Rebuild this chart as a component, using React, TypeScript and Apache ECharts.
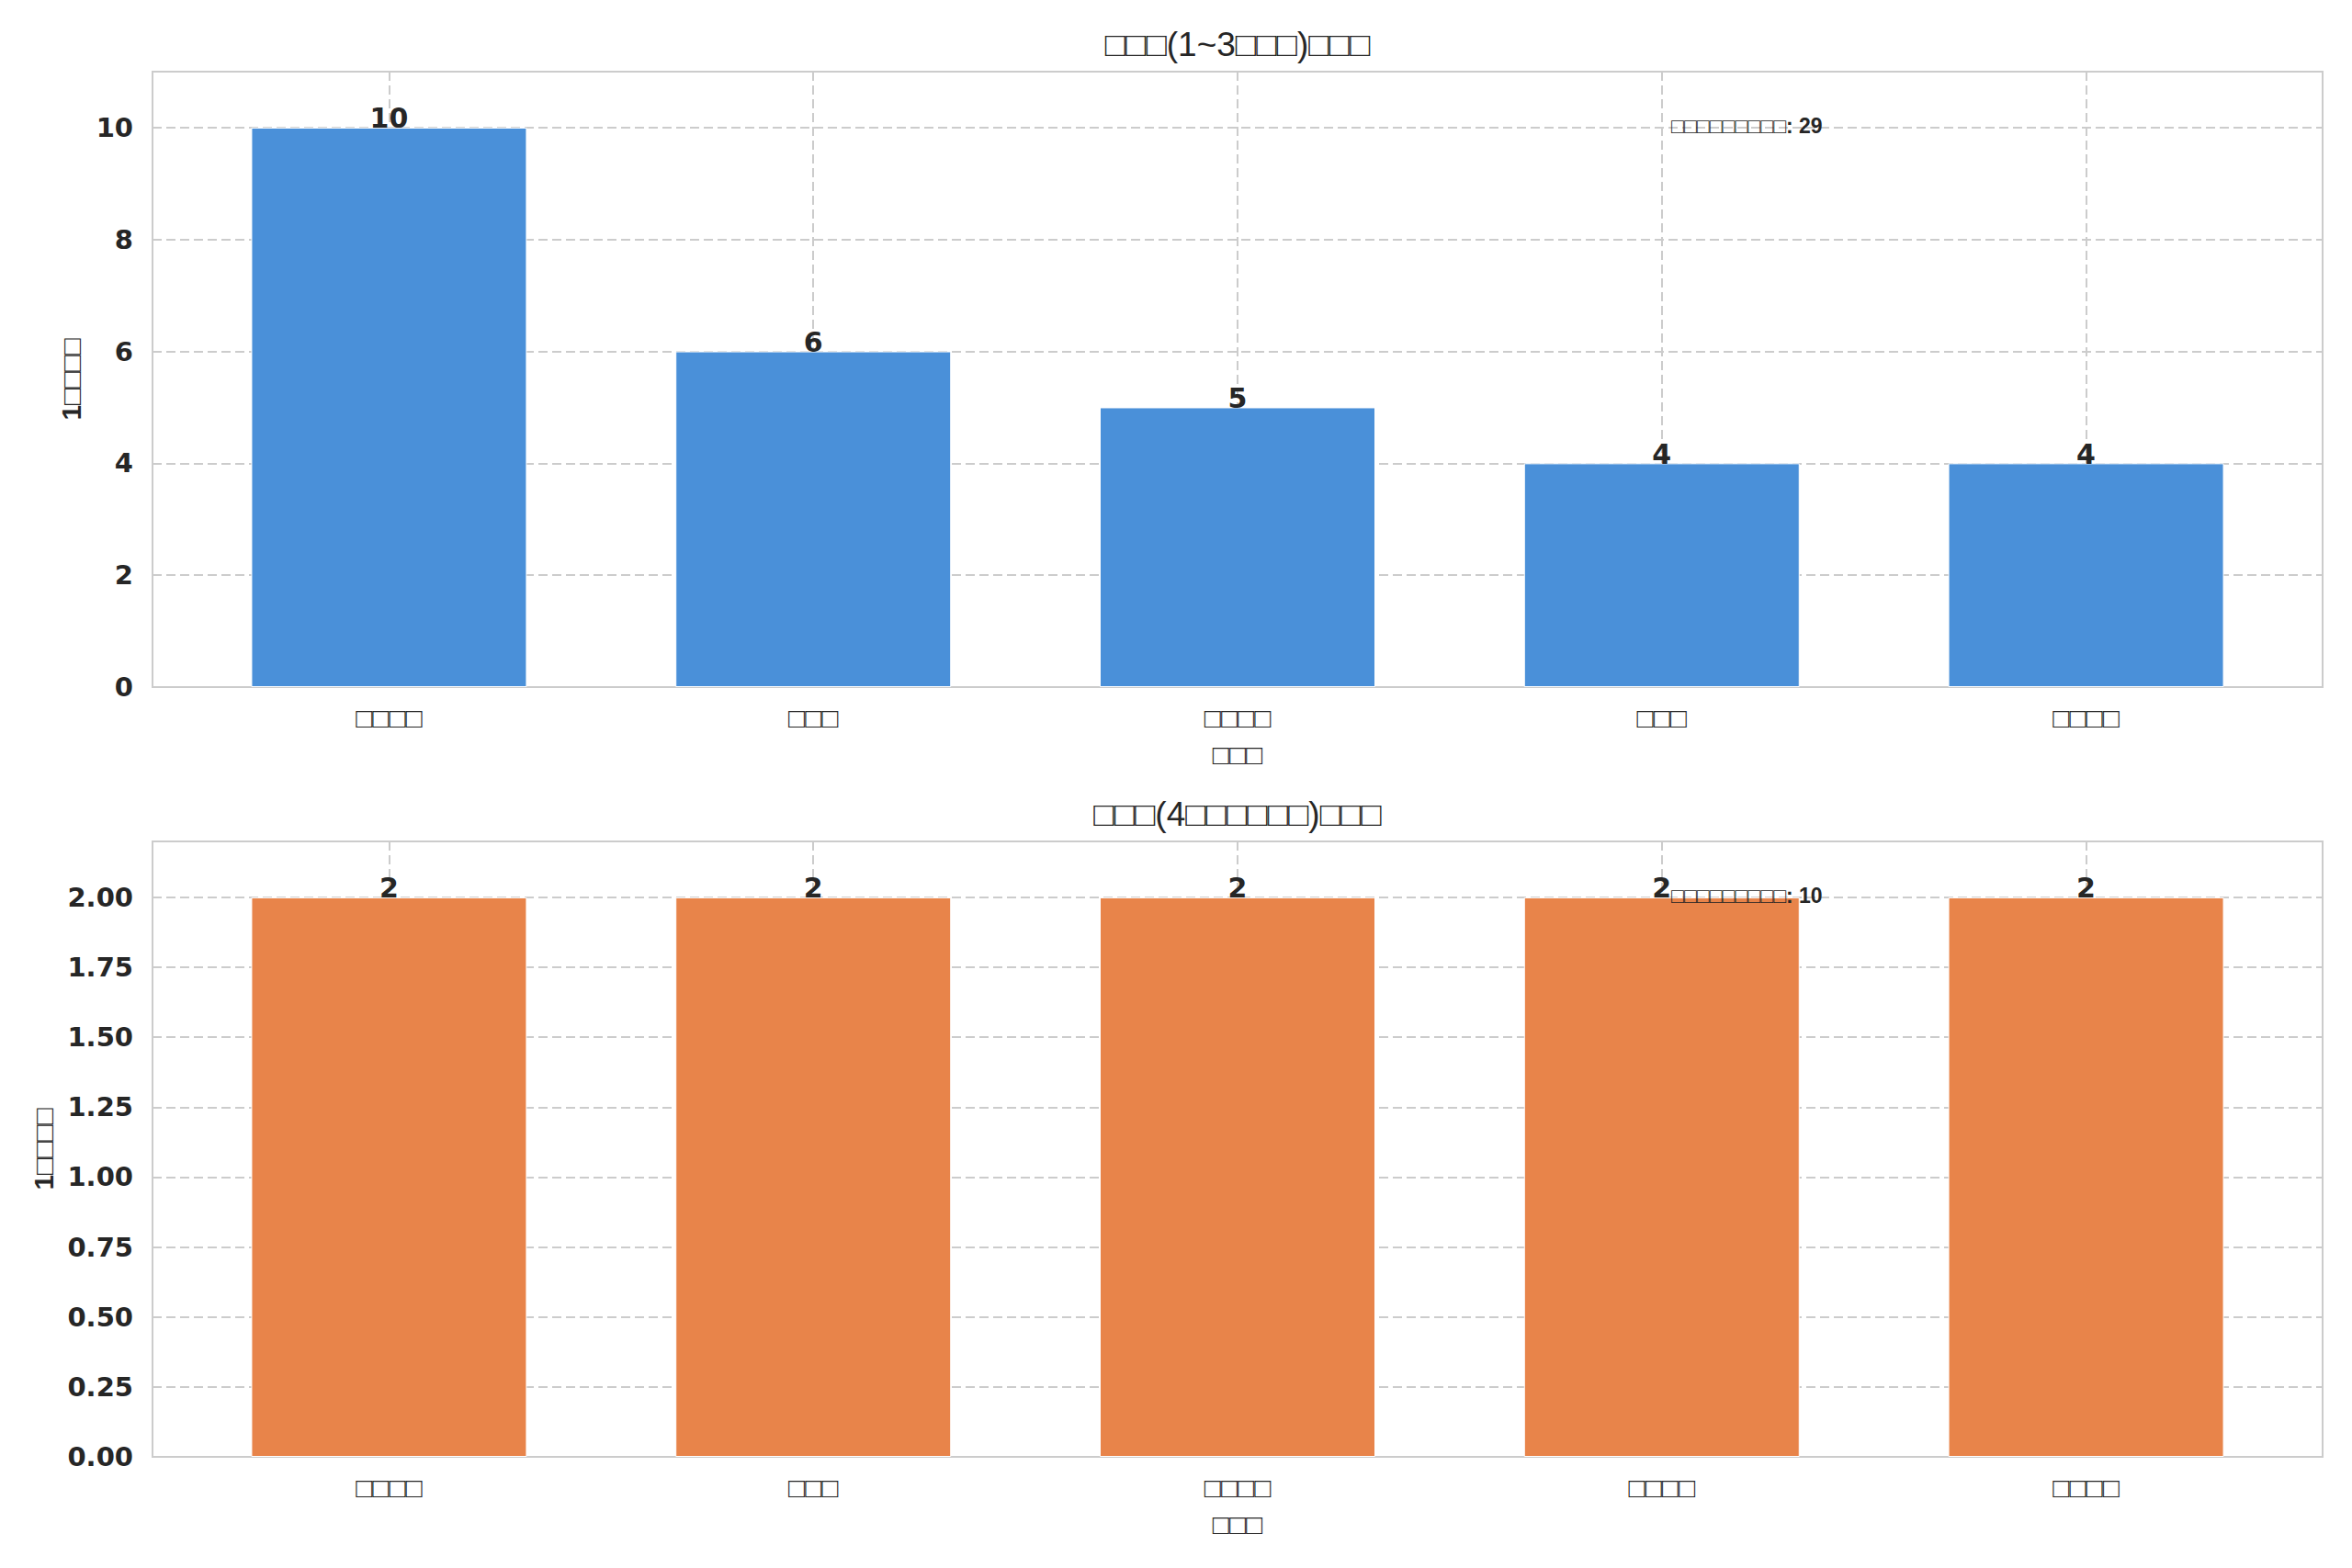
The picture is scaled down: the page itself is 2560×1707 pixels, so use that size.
import { useEffect, useRef } from 'react'
import * as echarts from 'echarts'

const topCategories = ['□□□□', '□□□', '□□□□', '□□□', '□□□□']
const topValues = [10, 6, 5, 4, 4]
const bottomCategories = ['□□□□', '□□□', '□□□□', '□□□□', '□□□□']
const bottomValues = [2, 2, 2, 2, 2]

const panelTitles = ['□□□(1~3□□□)□□□', '□□□(4□□□□□□)□□□']
const xAxisName = '□□□'
const yAxisName = '1□□□□'
const totalLabel = '□□□□□□□□□'

const TEXT = '#262626'
const GRID = '#cccccc'
const FONT = '"DejaVu Sans", sans-serif'
// narrower square glyph, closer to the missing-glyph boxes of the original
const BOX_FONT = '"Liberation Sans", "DejaVu Sans", sans-serif'

// plot rectangles in page px
const LEFT = 166
const RIGHT = 2528
const PANEL_TOP = [78, 916]
const PANEL_H = 670
const X_MIN = -0.5575
const X_MAX = 4.5575
const BAR_W = 300

function panel(idx: number, cats: string[], values: number[], color: string, yMax: number, yInterval: number, decimals: number, nameGap: number) {
  return {
    grid: {
      left: LEFT,
      width: RIGHT - LEFT,
      top: PANEL_TOP[idx],
      height: PANEL_H,
      show: true,
      borderColor: GRID,
      borderWidth: 2,
      backgroundColor: '#ffffff',
    },
    xAxis: {
      type: 'value',
      gridIndex: idx,
      min: X_MIN,
      max: X_MAX,
      name: xAxisName,
      nameLocation: 'middle',
      nameGap: 58,
      nameTextStyle: { color: TEXT, fontSize: 30, fontFamily: BOX_FONT, fontWeight: 'bold' },
      axisLine: { show: false },
      axisTick: { show: false, customValues: [0, 1, 2, 3, 4] },
      axisLabel: {
        customValues: [0, 1, 2, 3, 4],
        formatter: (v: number) => cats[Math.round(v)] ?? '',
        color: TEXT,
        fontSize: 30,
        fontFamily: BOX_FONT,
        fontWeight: 'bold',
        margin: 18,
      },
      splitLine: { show: true, lineStyle: { color: GRID, width: 2, type: [10, 5] } },
    },
    yAxis: {
      type: 'value',
      gridIndex: idx,
      min: 0,
      max: yMax,
      interval: yInterval,
      name: yAxisName,
      nameLocation: 'middle',
      nameGap,
      nameRotate: 90,
      nameTextStyle: { color: TEXT, fontSize: 30, fontFamily: BOX_FONT, fontWeight: 'bold' },
      axisLine: { show: false },
      axisTick: { show: false },
      axisLabel: {
        showMaxLabel: false,
        formatter: (v: number) => v.toFixed(decimals),
        color: TEXT,
        fontSize: 29,
        fontFamily: FONT,
        fontWeight: 'bold',
        margin: 21,
      },
      splitLine: { show: true, lineStyle: { color: GRID, width: 2, type: [10, 5] } },
    },
    series: {
      type: 'bar',
      xAxisIndex: idx,
      yAxisIndex: idx,
      barWidth: BAR_W,
      data: values.map((v, i) => [i, v]),
      itemStyle: { color, borderColor: '#ffffff', borderWidth: 1 },
      label: {
        show: true,
        position: 'top',
        distance: -5,
        formatter: (p: { value: number[] }) => String(p.value[1]),
        color: TEXT,
        fontSize: 30,
        fontFamily: FONT,
        fontWeight: 'bold',
      },
    },
    title: {
      text: panelTitles[idx],
      left: (LEFT + RIGHT) / 2,
      textAlign: 'center',
      top: PANEL_TOP[idx] - 48,
      padding: 0,
      textStyle: { color: TEXT, fontSize: 37, fontFamily: BOX_FONT, fontWeight: 'normal' },
    },
    note: {
      type: 'text',
      left: 1819,
      top: PANEL_TOP[idx] + 47,
      style: {
        text: `${totalLabel}: ${values.reduce((a, b) => a + b, 0)}`,
        fill: TEXT,
        fontSize: 23,
        fontFamily: BOX_FONT,
        fontWeight: 'bold',
      },
      z: 10,
    },
  }
}

export default function App() {
  const ref = useRef<HTMLDivElement>(null)

  useEffect(() => {
    if (!ref.current) return
    const chart = echarts.init(ref.current, undefined, { renderer: 'svg' })
    const a = panel(0, topCategories, topValues, '#4a90d9', 11, 2, 0, 74)
    const b = panel(1, bottomCategories, bottomValues, '#e8844a', 2.2, 0.25, 2, 104)
    chart.setOption({
      animation: false,
      backgroundColor: '#ffffff',
      title: [a.title, b.title],
      grid: [a.grid, b.grid],
      xAxis: [a.xAxis, b.xAxis],
      yAxis: [a.yAxis, b.yAxis],
      series: [a.series, b.series],
      graphic: [a.note, b.note],
    })
    return () => chart.dispose()
  }, [])

  return <div ref={ref} style={{ position: 'fixed', left: 0, top: 0, width: 2560, height: 1707 }} />
}
